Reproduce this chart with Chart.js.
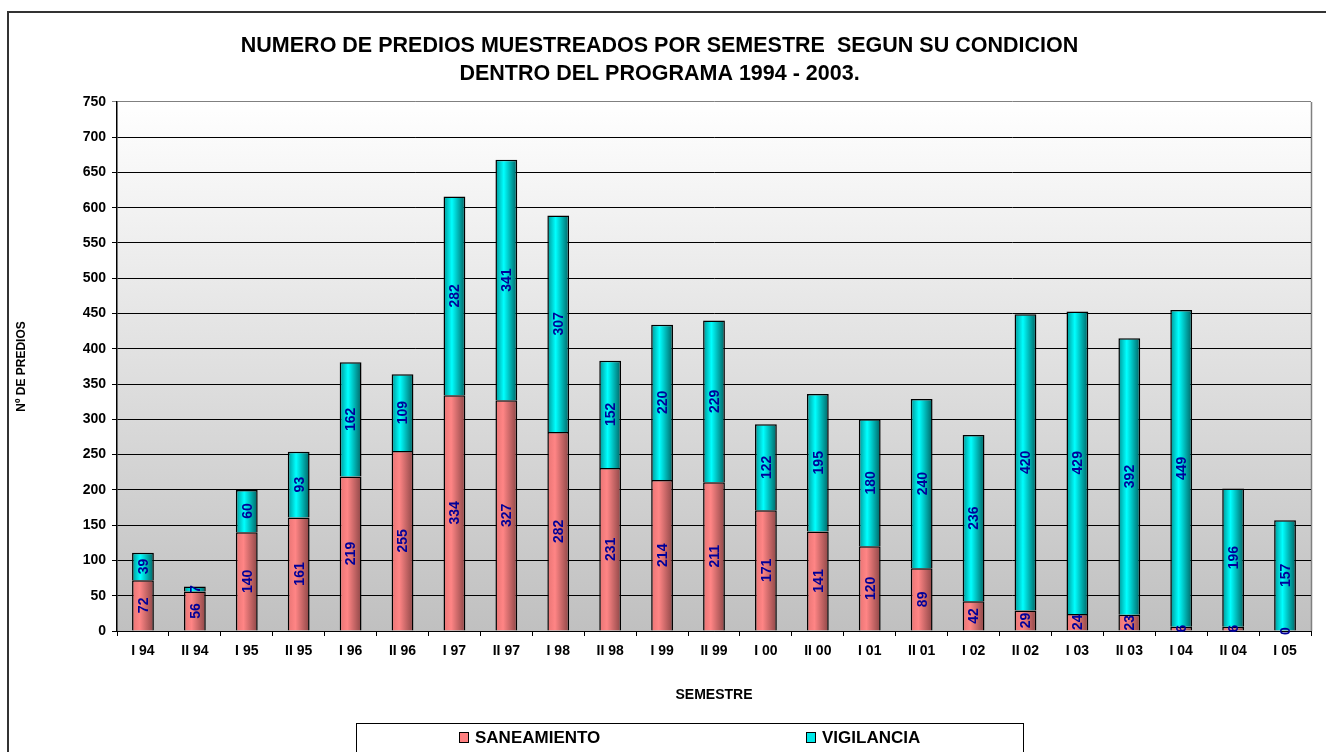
<!DOCTYPE html>
<html>
<head>
<meta charset="utf-8">
<script src="https://cdn.jsdelivr.net/npm/chart.js@4.4.0/dist/chart.umd.min.js"></script>
<style>
    html, body { margin: 0; padding: 0; background: #fff; }
    #wrap { width: 1326px; height: 752px; }
</style>
</head>
<body>
<div id="wrap"><canvas id="chart" width="1326" height="752"></canvas></div>
<script>
const semesters = ['I 94', 'II 94', 'I 95', 'II 95', 'I 96', 'II 96', 'I 97', 'II 97', 'I 98', 'II 98', 'I 99', 'II 99',
    'I 00', 'II 00', 'I 01', 'II 01', 'I 02', 'II 02', 'I 03', 'II 03', 'I 04', 'II 04', 'I 05'];
const saneamiento = [72, 56, 140, 161, 219, 255, 334, 327, 282, 231, 214, 211, 171, 141, 120, 89, 42, 29, 24, 23, 6, 6, 0];
const vigilancia = [39, 7, 60, 93, 162, 109, 282, 341, 307, 152, 220, 229, 122, 195, 180, 240, 236, 420, 429, 392, 449, 196, 157];
const yMax = 750;
const yStep = 50;

const FONT = 'Arial, "Liberation Sans", sans-serif';
const BAR_PCT = 0.42;

// horizontal shading across each bar, like the old spreadsheet fill
function barFill(stops, flat) {
    return ctx => {
        const chart = ctx.chart;
        const xs = chart.scales.x;
        if (!xs || ctx.type !== 'data') return flat;
        const cx = xs.getPixelForValue(ctx.dataIndex);
        const w = xs.width / semesters.length * BAR_PCT;
        if (!isFinite(cx) || !isFinite(w) || w <= 0) return flat;
        const g = chart.ctx.createLinearGradient(cx - w / 2, 0, cx + w / 2, 0);
        stops.forEach(([p, c]) => g.addColorStop(p, c));
        return g;
    };
}

const frame = {
    id: 'frame',
    beforeDraw(chart) {
        const { ctx, chartArea: a } = chart;
        ctx.save();
        const g = ctx.createLinearGradient(0, a.top, 0, a.bottom);
        g.addColorStop(0, '#ffffff');
        g.addColorStop(1, '#c0c0c0');
        ctx.fillStyle = g;
        ctx.fillRect(a.left, a.top, a.right - a.left, a.bottom - a.top);
        ctx.strokeStyle = '#808080';
        ctx.lineWidth = 1.5;
        ctx.beginPath();
        ctx.moveTo(a.right + 0.5, a.top);
        ctx.lineTo(a.right + 0.5, a.bottom);
        ctx.stroke();
        // outer chart border
        ctx.strokeStyle = '#333';
        ctx.lineWidth = 2;
        ctx.beginPath();
        ctx.moveTo(8, 800);
        ctx.lineTo(8, 12);
        ctx.lineTo(1400, 12);
        ctx.stroke();
        ctx.restore();
    },
    afterDatasetsDraw(chart) {
        const ctx = chart.ctx;
        ctx.save();
        ctx.font = 'bold 14px ' + FONT;
        ctx.fillStyle = '#000099';
        ctx.textAlign = 'center';
        ctx.textBaseline = 'middle';
        chart.data.datasets.forEach((ds, i) => {
            chart.getDatasetMeta(i).data.forEach((bar, j) => {
                const { x, y, base } = bar.getProps(['x', 'y', 'base'], true);
                ctx.save();
                ctx.translate(x, (y + base) / 2);
                ctx.rotate(-Math.PI / 2);
                ctx.fillText(String(ds.data[j]), 0, 1);
                ctx.restore();
            });
        });
        ctx.restore();
    },
    afterDraw(chart) {
        const ctx = chart.ctx;
        ctx.save();
        ctx.strokeStyle = '#000';
        ctx.lineWidth = 1;
        ctx.strokeRect(356.5, 723.5, 667, 60);
        const items = [
            { label: chart.data.datasets[0].label, color: '#ff8080', x: 459 },
            { label: chart.data.datasets[1].label, color: '#00e8e8', x: 806 }
        ];
        ctx.font = 'bold 17px ' + FONT;
        ctx.textBaseline = 'middle';
        ctx.textAlign = 'left';
        items.forEach(it => {
            ctx.fillStyle = it.color;
            ctx.fillRect(it.x, 732, 9, 10);
            ctx.strokeRect(it.x + 0.5, 732.5, 9, 10);
            ctx.fillStyle = '#000';
            ctx.fillText(it.label, it.x + 16, 738);
        });
        ctx.restore();
    }
};

new Chart(document.getElementById('chart'), {
    type: 'bar',
    data: {
        labels: semesters,
        datasets: [
            {
                label: 'SANEAMIENTO',
                data: saneamiento,
                backgroundColor: barFill([[0, '#e87474'], [0.35, '#ff8585'], [1, '#8c4646']], '#ff8080'),
                borderColor: '#000',
                borderWidth: 1.5,
                barPercentage: BAR_PCT,
                categoryPercentage: 1
            },
            {
                label: 'VIGILANCIA',
                data: vigilancia,
                backgroundColor: barFill([[0, '#009494'], [0.38, '#00ffff'], [1, '#006262']], '#00ffff'),
                borderColor: '#000',
                borderWidth: 1.5,
                barPercentage: BAR_PCT,
                categoryPercentage: 1
            }
        ]
    },
    options: {
        responsive: false,
        animation: false,
        layout: { padding: { left: 8, right: 15, top: 12, bottom: 48 } },
        plugins: {
            legend: { display: false },
            tooltip: { enabled: false },
            title: {
                display: true,
                text: ['NUMERO DE PREDIOS MUESTREADOS POR SEMESTRE  SEGUN SU CONDICION', 'DENTRO DEL PROGRAMA 1994 - 2003.'],
                color: '#000',
                font: { family: FONT, size: 21.5, weight: 'bold', lineHeight: 1.3 },
                padding: { top: 20.5, bottom: 13.5 }
            }
        },
        scales: {
            x: {
                stacked: true,
                afterFit: s => { s.height = 73; },
                grid: { offset: true, drawOnChartArea: false, drawTicks: true, tickLength: 5, color: '#000' },
                border: { display: true, color: '#000', width: 1 },
                ticks: { color: '#000', padding: 7, maxRotation: 0, font: { family: FONT, size: 14, weight: 'bold' } },
                title: {
                    display: true,
                    text: 'SEMESTRE',
                    color: '#000',
                    padding: 0,
                    font: { family: FONT, size: 14, weight: 'bold' }
                }
            },
            y: {
                stacked: true,
                min: 0,
                max: yMax,
                afterFit: s => { s.width = 109; },
                grid: {
                    color: c => (c.tick && c.tick.value === yMax ? '#808080' : '#000'),
                    lineWidth: 1,
                    tickLength: 5
                },
                border: { display: true, color: '#000', width: 1.5 },
                ticks: { stepSize: yStep, color: '#000', padding: 6, font: { family: FONT, size: 14, weight: 'bold' } },
                title: {
                    display: true,
                    text: 'Nº DE PREDIOS',
                    color: '#000',
                    padding: { top: 6, bottom: 0 },
                    font: { family: FONT, size: 12, weight: 'bold' }
                }
            }
        }
    },
    plugins: [frame]
});
</script>
</body>
</html>
